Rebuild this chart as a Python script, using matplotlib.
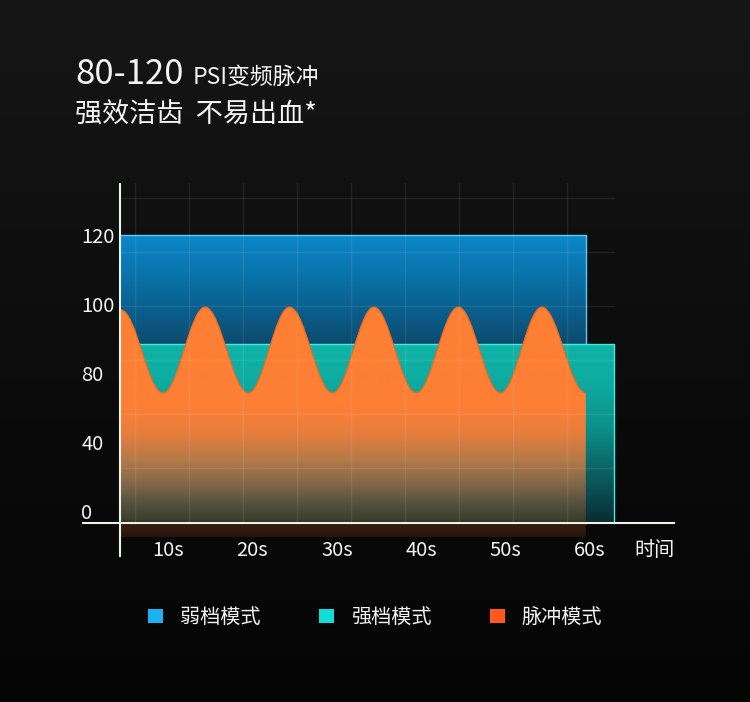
import numpy as np
import matplotlib
matplotlib.use("Agg")
import matplotlib.pyplot as plt
from matplotlib.colors import LinearSegmentedColormap
from matplotlib.path import Path
from matplotlib.patches import PathPatch, Patch
from matplotlib.ticker import NullLocator

plt.rcParams['font.family'] = ['Noto Sans CJK SC', 'DejaVu Sans']

# ---- data ----
level_ticks = [0, 40, 80, 100, 120]      # pressure labels, drawn evenly spaced
level_pos = [0, 1, 2, 3, 4]
time_ticks = [10, 20, 30, 40, 50, 60]
time_labels = ['10s', '20s', '30s', '40s', '50s', '60s']

mode_names = ['弱档模式', '强档模式', '脉冲模式']
mode_colors = ['#19b2f2', '#12dcd8', '#ff5a1c']

weak_level = 120
weak_start, weak_end = 4.3, 59.5
strong_level = 88.5
strong_start, strong_end = 4.3, 62.8

# pulse mode: turning points (s, psi)
pulse_t = [4.4, 9.4, 14.4, 19.5, 24.4, 29.5, 34.4, 39.4, 44.4, 49.4, 54.3, 59.5]
pulse_v = [98.3, 68.4, 99.1, 68.4, 99.1, 68.4, 99.1, 68.4, 99.1, 68.4, 99.1, 68.4]

title_big = '80-120'
title_small = 'PSI变频脉冲'
subtitle = '强效洁齿  不易出血*'
x_name = '时间'

# ---- layout ----
W, H = 750, 702
AX_L, AX_R, AX_T, AX_B = 80, 675, 183, 557   # axes box in pixels
BASE = -6.7          # value where the x axis line sits
ORANGE_BASE = -15.1  # pulse area runs a little below the axis
TXT = '#f2f2f2'


def fwd(v):
    v = np.asarray(v, dtype=float)
    p = np.interp(v, level_ticks, level_pos)
    p = np.where(v < level_ticks[0], (v - level_ticks[0]) / 40.0, p)
    p = np.where(v > level_ticks[-1], level_pos[-1] + (v - level_ticks[-1]) / 20.0, p)
    return p


def inv(p):
    p = np.asarray(p, dtype=float)
    v = np.interp(p, level_pos, level_ticks)
    v = np.where(p < level_pos[0], p * 40.0, v)
    v = np.where(p > level_pos[-1], level_ticks[-1] + (p - level_pos[-1]) * 20.0, v)
    return v


def ax_x(px):
    return (px - AX_L) / (AX_R - AX_L)


def ax_y(py):
    return (AX_B - py) / (AX_B - AX_T)


fig = plt.figure(figsize=(W / 100, H / 100), dpi=100, facecolor='#0d0d0d')

# background gradient
bg = fig.add_axes([0, 0, 1, 1], zorder=-10)
bg_cmap = LinearSegmentedColormap.from_list('bg', [(0, '#050505'), (0.35, '#0a0a0a'), (1, '#161616')])
bg.imshow(np.linspace(0, 1, 256).reshape(-1, 1), cmap=bg_cmap, aspect='auto',
          extent=(0, 1, 0, 1), origin='lower')
bg.axis('off')

ax = fig.add_axes([AX_L / W, 1 - AX_B / H, (AX_R - AX_L) / W, (AX_B - AX_T) / H])
ax.set_facecolor('none')
ax.set_yscale('function', functions=(fwd, inv))


def gradient_fill(stops, clip, z):
    # stops: (pixel row, colour) from top to bottom
    pts = [(ax_y(py), c) for py, c in stops][::-1]
    if pts[0][0] > 0:
        pts.insert(0, (0.0, pts[0][1]))
    if pts[-1][0] < 1:
        pts.append((1.0, pts[-1][1]))
    cmap = LinearSegmentedColormap.from_list('g', pts)
    im = ax.imshow(np.linspace(0, 1, 1000).reshape(-1, 1), cmap=cmap, extent=(0, 1, 0, 1),
                   transform=ax.transAxes, origin='lower', aspect='auto',
                   interpolation='bilinear', zorder=z)
    im.set_clip_path(clip)


# weak mode (blue)
weak = ax.bar(weak_start, weak_level - BASE, width=weak_end - weak_start, bottom=BASE,
              align='edge', color='none', edgecolor='none', zorder=1)[0]
gradient_fill([(236, '#0c87c9'), (280, '#0a70a6'), (320, '#0b5984'), (345, '#0c4a6c'),
               (522, '#0a2030')], weak, 1)
ax.plot([weak_start, weak_end, weak_end], [weak_level, weak_level, BASE],
        color='#62c8f0', lw=1.0, zorder=1.5)

# strong mode (teal)
strong = ax.bar(strong_start, strong_level - BASE, width=strong_end - strong_start, bottom=BASE,
                align='edge', color='none', edgecolor='none', zorder=2)[0]
gradient_fill([(343, '#12b4a8'), (385, '#0eaaa0'), (425, '#0c928c'), (462, '#0b6b6a'),
               (495, '#0a4a4e'), (522, '#092c31')], strong, 2)
ax.plot([strong_start, strong_end, strong_end], [strong_level, strong_level, BASE],
        color='#40ece4', lw=1.0, zorder=2.5)

# pulse mode (orange): smooth curve through the turning points
k = 0.364
curve_v = [(pulse_t[0], pulse_v[0])]
curve_c = [Path.MOVETO]
for i in range(1, len(pulse_t)):
    d = pulse_t[i] - pulse_t[i - 1]
    curve_v += [(pulse_t[i - 1] + k * d, pulse_v[i - 1]),
                (pulse_t[i] - k * d, pulse_v[i]),
                (pulse_t[i], pulse_v[i])]
    curve_c += [Path.CURVE4] * 3
area_v = [(pulse_t[0], ORANGE_BASE)] + curve_v + [(pulse_t[-1], ORANGE_BASE), (pulse_t[0], ORANGE_BASE)]
area_c = [Path.MOVETO, Path.LINETO] + curve_c[1:] + [Path.LINETO, Path.CLOSEPOLY]
pulse_patch = PathPatch(Path(area_v, area_c), facecolor='none', edgecolor='none', zorder=3)
ax.add_patch(pulse_patch)
gradient_fill([(300, '#ff7f33'), (410, '#fc7f36'), (435, '#e47e3d'), (460, '#b57a4a'),
               (485, '#80674a'), (505, '#53503b'), (521, '#3b3d30'), (523, '#3a2012'),
               (537, '#28140b')], pulse_patch, 3)
ax.add_patch(PathPatch(Path(curve_v, curve_c), facecolor='none', edgecolor='#ec6a24',
                       lw=0.9, zorder=3.5))

# faint grid on top
for gx in np.arange(135, 568, 54):
    ax.plot([ax_x(gx)] * 2, [ax_y(522.5), 1], transform=ax.transAxes,
            color='white', alpha=0.08, lw=1.0, zorder=4)
for gy in np.arange(198, 469, 54):
    ax.plot([ax_x(120), ax_x(614)], [ax_y(gy)] * 2, transform=ax.transAxes,
            color='white', alpha=0.08, lw=1.0, zorder=4)

# axis lines
ax.plot([ax_x(120)] * 2, [0, 1], transform=ax.transAxes, color='#e9f3e6', lw=1.5,
        zorder=6, clip_on=False, solid_capstyle='butt')
ax.plot([ax_x(82), 1], [ax_y(522.5)] * 2, transform=ax.transAxes, color='#e9f3e6', lw=1.5,
        zorder=6, clip_on=False, solid_capstyle='butt')

ax.set_xlim(-0.43, 70.07)
ax.set_ylim(-26.7, 135.1)
for s in ax.spines.values():
    s.set_visible(False)

ax.set_yticks(level_ticks, [str(v) for v in level_ticks])
ax.yaxis.set_minor_locator(NullLocator())
ax.set_xticks(time_ticks, time_labels)
ax.tick_params(length=0, labelsize=14.5, labelcolor=TXT)
ax.tick_params(axis='y', pad=-1)
ax.tick_params(axis='x', pad=-5)
plt.setp(ax.get_yticklabels(), ha='left')
plt.setp(ax.get_xticklabels(), va='center')
ax.text(ax_x(655), ax_y(550), x_name, transform=ax.transAxes, ha='center', va='center',
        fontsize=14.5, color=TXT)

# titles
fig.text(75 / W, 1 - 84 / H, title_big, fontsize=25, color='#f4f4f4', va='baseline')
fig.text(193 / W, 1 - 84 / H, title_small, fontsize=16.5, color='#f4f4f4', va='baseline')
fig.text(75 / W, 1 - 123 / H, subtitle, fontsize=19.5, color='#f4f4f4', va='baseline')

# legend
handles = [Patch(facecolor=c, edgecolor='none') for c in mode_colors]
fig.legend(handles, mode_names, loc='center', bbox_to_anchor=(0.5, 1 - 617.5 / H), ncol=3,
           frameon=False, fontsize=14.5, labelcolor=TXT, handlelength=0.745,
           handleheight=0.745, handletextpad=0.84, columnspacing=2.9,
           borderpad=0, borderaxespad=0)

fig.savefig('out.png', dpi=100, facecolor=fig.get_facecolor())
